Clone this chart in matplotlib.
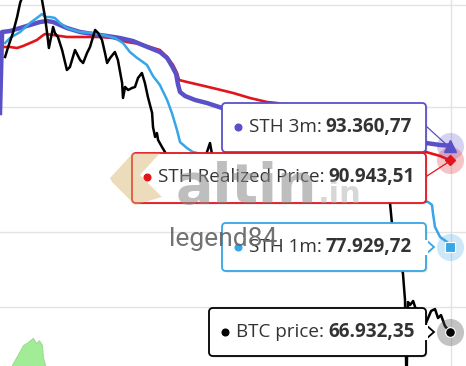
import matplotlib
matplotlib.use("Agg")
import matplotlib.pyplot as plt
from matplotlib.patches import FancyBboxPatch, Polygon
from matplotlib.lines import Line2D
from matplotlib.transforms import IdentityTransform

# ---------------- data (x = day index, y = USD) ----------------
sth3m_day = [0, 0.7, 3.3, 6.7, 10, 13.3, 15.7, 17.7, 20, 22.3, 26.7, 31, 35.7, 40, 44.3, 46.7,
             50, 53.3, 55.7, 57.3, 58.7, 59.3, 60, 61.7, 65, 69, 74, 86.7, 110, 133.3, 142, 146.7, 150]
sth3m = [98970, 114370, 114570, 115190, 115810, 116430, 116640, 116430, 115810, 115190, 114370,
         113960, 113560, 113150, 112550, 111950, 111150, 110360, 109190, 107640, 106110, 104230,
         102750, 102020, 101300, 100750, 99860, 98090, 96870, 94480, 93810, 93470, 93360.77]

sthrp_day = [1, 3.3, 5.7, 7.7, 10, 12.3, 14, 15, 17.7, 22.3, 27.7, 33.3, 37.7, 42.3, 46.7, 50,
             53.3, 55.7, 57.7, 59, 59.7, 62.3, 66.7, 72.3, 77.7, 83.3, 89, 92.3, 116.7, 133.3, 142, 146.7, 150]
sthrp = [111350, 111350, 111150, 111550, 112140, 112750, 113560, 113960, 113760, 113360, 113360,
         113360, 113150, 112350, 111950, 111350, 110750, 109380, 107830, 106300, 104980, 104610,
         104040, 103300, 102570, 101660, 100930, 100750, 97390, 94310, 92310, 91660, 90943.51]

sth1m_day = [1.7, 3.3, 6.7, 10, 12.3, 14, 15, 16.7, 18.3, 20, 22.3, 26.7, 31, 35.7, 38.3, 41, 43.3,
             45.7, 46.7, 49, 51, 53.3, 55.7, 57.3, 59, 60, 62.3, 64.3, 83.3, 106.7, 126.7, 142.7,
             144, 144.3, 145, 146.7, 149, 150]
sth1m = [112140, 113150, 114370, 116230, 117270, 118110, 117480, 117480, 117270, 116230, 115190,
         114370, 114170, 113560, 113150, 112140, 110360, 109190, 108800, 107830, 105730, 104040,
         101300, 98970, 96010, 93970, 92970, 92310, 90190, 87810, 85950, 84430, 83980, 82790,
         80740, 79310, 78610, 77929.72]

btc_day = [1.7, 2.7, 4.3, 5.7, 6.7, 7.3, 9, 11, 12.7, 14, 15, 15.7, 16.3, 17.3, 17.7, 18.3, 19.3,
           20.7, 22.3, 23.3, 25, 26.7, 27.7, 29, 30, 31.7, 32.7, 34, 35, 35.7, 36.7, 38.3, 39.3,
           40.7, 41, 41.7, 42.7, 44, 45, 46, 47.3, 48.3, 49.3, 50.7, 51, 51.7, 52.3, 52.7, 54, 55,
           55.7, 58.3, 61.7, 65, 69, 70, 71, 75, 80, 85, 90, 95, 100, 106.7, 111.7, 115, 118.3,
           123.3, 128.3, 130, 130.7, 132.7, 134.3, 135, 135.5, 136, 136.7, 137.7, 138.7, 140, 142,
           143.7, 145, 146, 147, 148.3, 150]
btc = [109380, 111350, 114170, 117480, 120450, 121530, 123720, 122400, 124160, 121100, 117480,
       114170, 111150, 114170, 115400, 114170, 113360, 110750, 106870, 107440, 110750, 108800,
       108210, 110160, 111350, 114790, 114170, 112750, 110160, 108210, 109190, 110360, 108800,
       104420, 101660, 103680, 103120, 103490, 103680, 105350, 106300, 104420, 101840, 98970,
       96520, 94820, 95500, 94310, 93140, 92310, 91330, 88600, 86250, 89390, 92310, 93810, 91000,
       88600, 87030, 89390, 87810, 90190, 88600, 92640, 95160, 94310, 90190, 88600, 86250, 84270,
       81030, 77490, 74370, 70870, 60890, 70620, 70250, 70750, 69620, 68630, 68020, 69500, 69740,
       68630, 68990, 67660, 66932.35]

# lower pane indicator
ind_day = [4, 7.7, 9.3, 11, 12, 13, 14, 14.3, 15]
ind_val = [0.02, 0.35, 0.40, 0.47, 0.38, 0.43, 0.35, 0.15, 0.02]

grid_levels = [70000, 80000, 100000, 120000]

names = ["STH 3m", "STH Realized Price", "STH 1m", "BTC price"]
last_vals = ["93.360,77", "90.943,51", "77.929,72", "66.932,35"]

c3m = "#5a50c8"
crp = "#e2141c"
c1m = "#36a6e6"
cbtc = "#000000"

# ---------------- figure ----------------
W, H = 466, 366
fig = plt.figure(figsize=(W / 100, H / 100), dpi=100)
ax = fig.add_axes([0, 0, 1, 1])
ax.set_yscale("log")
ax.set_xlim(0, 155.33)
ax.set_ylim(62995, 121098)
ax.axis("off")

for g in grid_levels:
    ax.axhline(g, color="#e3e3e3", lw=1, zorder=0)
ax.axvline(150.4, color="#e3e3e3", lw=1, zorder=0)

ax.plot(sthrp_day, sthrp, color=crp, lw=1.9, zorder=2)
ax.plot(sth3m_day, sth3m, color=c3m, lw=3.2, zorder=3)
ax.plot(sth1m_day, sth1m, color=c1m, lw=1.8, zorder=4)
ax.plot(btc_day, btc, color=cbtc, lw=1.8, zorder=5)

# end markers with halos
ax.scatter([sth3m_day[-1]], [sth3m[-1]], s=380, color=c3m, alpha=0.25, lw=0, zorder=6)
ax.scatter([sthrp_day[-1]], [sthrp[-1]], s=380, color=crp, alpha=0.25, lw=0, zorder=6)
ax.scatter([sth1m_day[-1]], [sth1m[-1]], s=380, color=c1m, alpha=0.25, lw=0, zorder=6)
ax.scatter([btc_day[-1]], [btc[-1]], s=380, color="#555555", alpha=0.35, lw=0, zorder=6)
ax.plot(sth3m_day[-1], sth3m[-1], marker="^", ms=8, color=c3m, zorder=7)
ax.plot(sthrp_day[-1], sthrp[-1], marker="D", ms=5, color=crp, zorder=7)
ax.plot(sth1m_day[-1], sth1m[-1], marker="s", ms=7, color=c1m, mec="white", mew=0.8, zorder=7)
ax.plot(btc_day[-1], btc[-1], marker="o", ms=7, color=cbtc, mec="white", mew=0.8, zorder=7)

# lower pane
ax2 = fig.add_axes([0, 0, 1, 60 / H])
ax2.patch.set_alpha(0)
ax2.axis("off")
ax2.set_xlim(0, 155.33)
ax2.set_ylim(0, 1)
ax2.fill_between(ind_day, 0, ind_val, color="#98ea8c", alpha=0.9, lw=0.6, edgecolor="#86d97a")

# ---------------- tooltips (pixel coords, y from top) ----------------
T = IdentityTransform()
renderer = fig.canvas.get_renderer()


def tooltip(x0, y0, x1, y1, color, pointer_y=None):
    sh = FancyBboxPatch((x0 + 1.5, H - y1 - 1.5), x1 - x0, y1 - y0,
                        boxstyle="round,pad=0,rounding_size=4", fc="black", ec="none",
                        alpha=0.12, transform=T, zorder=8)
    fig.add_artist(sh)
    bx = FancyBboxPatch((x0, H - y1), x1 - x0, y1 - y0,
                        boxstyle="round,pad=0,rounding_size=4", fc="white", ec=color,
                        lw=1.3, transform=T, zorder=9)
    fig.add_artist(bx)
    if pointer_y is not None:
        tri = Polygon([(x1, H - pointer_y - 7), (x1 + 8, H - pointer_y), (x1, H - pointer_y + 7)],
                      closed=True, fc="white", ec=color, lw=1.3, transform=T, zorder=9.1)
        fig.add_artist(tri)
        fig.add_artist(Line2D([x1, x1], [H - pointer_y - 6, H - pointer_y + 6], color="white",
                              lw=2.2, transform=T, zorder=9.2))


def tip_text(xdot, y, color, label, value):
    fig.add_artist(Line2D([xdot], [H - y], marker="o", ms=4.8, color=color, lw=0,
                          transform=T, zorder=10))
    t = fig.text(xdot + 11, H - y, label + ":", transform=T, fontsize=13.6, family="Open Sans",
                 color="#333333", va="center", ha="left", zorder=10)
    x_end = t.get_window_extent(renderer).x1
    fig.text(x_end + 4, H - y, value, transform=T, fontsize=13.6, family="Open Sans",
             fontweight="bold", color="#333333", va="center", ha="left", zorder=10)


# connectors from boxes to markers
fig.add_artist(Line2D([426, 448], [H - 126, H - 146], color=c3m, lw=0.9, transform=T, zorder=7))
fig.add_artist(Line2D([427, 450], [H - 176, H - 161], color=crp, lw=0.9, transform=T, zorder=7))

tooltip(222, 103, 426, 152, c3m)
tip_text(238, 127, c3m, names[0], last_vals[0])
tooltip(132, 153, 426, 203, crp)
tip_text(147, 177, crp, names[1], last_vals[1])
tooltip(222, 223, 426, 271, c1m, pointer_y=247)
tip_text(238, 247, c1m, names[2], last_vals[2])
tooltip(209, 308, 426, 356, cbtc, pointer_y=332)
tip_text(225, 332, cbtc, names[3], last_vals[3])

# ---------------- watermarks ----------------
logo = Polygon([(110, H - 178), (133, H - 153), (160, H - 153), (140, H - 175), (162, H - 197),
                (135, H - 205), (112, H - 182)], closed=True, fc="#d9b26a", ec="none",
               alpha=0.45, transform=T, zorder=11)
fig.add_artist(logo)
fig.text(176, H - 203, "altin", transform=T, fontsize=40, fontweight="bold",
         family="DejaVu Sans", color="#8a8a8a", alpha=0.55, ha="left", va="baseline", zorder=11)
fig.text(318, H - 203, ".in", transform=T, fontsize=22, fontweight="bold",
         family="DejaVu Sans", color="#b0b0b0", alpha=0.5, ha="left", va="baseline", zorder=11)
fig.text(169, H - 246, "legend84", transform=T, fontsize=19, family="Roboto",
         color="#6a6a6a", alpha=0.95, ha="left", va="baseline", zorder=11)

fig.savefig("out.png", dpi=100)
